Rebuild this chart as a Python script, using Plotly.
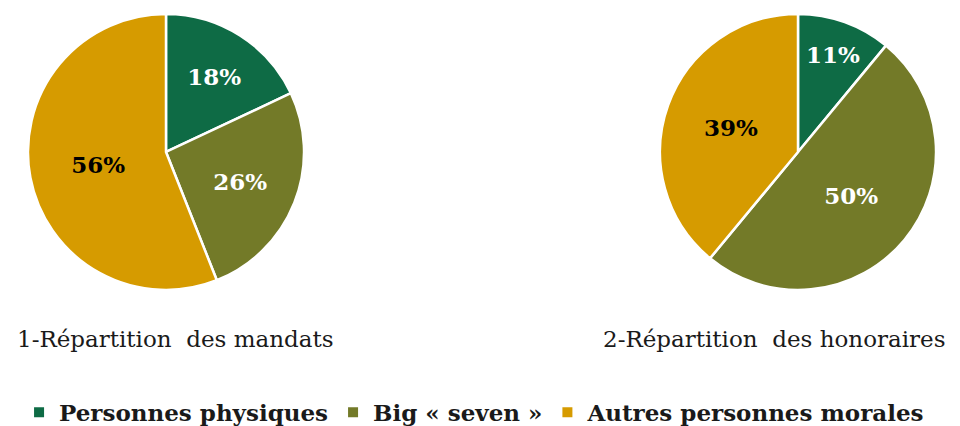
import plotly.graph_objects as go

categories = ["Personnes physiques", "Big « seven »", "Autres personnes morales"]
mandats = [18, 26, 56]
honoraires = [11, 50, 39]
titles = ["1-Répartition  des mandats", "2-Répartition  des honoraires"]
colors = ["#0E6B45", "#737A28", "#D69B00"]
text_colors = ["white", "white", "black"]

W, H = 960, 426
R = 140

def dom(cx, cy):
    return dict(x=[(cx - R) / W, (cx + R) / W], y=[(H - cy - R) / H, (H - cy + R) / H])

fig = go.Figure()
for vals, (cx, cy), show in [(mandats, (158, 146), True), (honoraires, (790, 146), False)]:
    fig.add_trace(go.Pie(
        labels=categories, values=vals, sort=False, direction="clockwise", rotation=0,
        marker=dict(colors=colors, line=dict(color="white", width=2.5)),
        texttemplate="%{percent:.0%}", textposition="inside",
        insidetextorientation="horizontal",
        textfont=dict(family="DejaVu Serif", size=23, color=text_colors, weight="bold"),
        domain=dom(cx, cy), showlegend=show, hoverinfo="label+percent",
    ))

for t, cx in zip(titles, [167, 766]):
    fig.add_annotation(text=t, x=cx / W, y=(H - 336) / H, xref="paper", yref="paper",
                       xanchor="center", yanchor="middle", showarrow=False,
                       font=dict(family="DejaVu Serif", size=23, color="#1a1a1a"))

fig.update_layout(
    width=W, height=H, margin=dict(l=0, r=0, t=0, b=0),
    paper_bgcolor="white", plot_bgcolor="white",
    legend=dict(orientation="h", x=0.486, xanchor="center", y=(H - 410) / H, yanchor="middle",
                font=dict(family="DejaVu Serif", size=23, color="#1a1a1a", weight="bold"),
                itemsizing="constant", traceorder="normal"),
)
fig.write_html("out.html")
